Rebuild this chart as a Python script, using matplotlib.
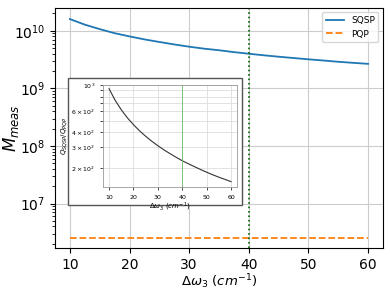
import numpy as np
import matplotlib
matplotlib.use("Agg")
import matplotlib.pyplot as plt
from matplotlib.patches import Rectangle

# data
dw = [10, 12.5, 15, 17.5, 20, 22.5, 25, 27.5, 30, 32.5, 35, 37.5,
      40, 42.5, 45, 47.5, 50, 52.5, 55, 57.5, 60]
m_sqsp = [1.6e10, 1.28e10, 1.07e10, 9.1e9, 8.0e9, 7.1e9, 6.4e9, 5.8e9, 5.3e9, 4.9e9, 4.6e9,
          4.27e9, 4.0e9, 3.76e9, 3.55e9, 3.37e9, 3.2e9, 3.05e9, 2.9e9, 2.78e9, 2.67e9]
m_pqp = [2.5e6] * len(dw)
ratio = [930, 744, 620, 531, 465, 413, 372, 338, 310, 286, 266,
         248, 232, 219, 207, 196, 186, 177, 169, 162, 155]
dw_mark = 40

fig = plt.figure(figsize=(3.9, 2.93), dpi=100)
ax = fig.add_axes([0.141, 0.152, 0.841, 0.821])
ax.plot(dw, m_sqsp, color='tab:blue', lw=1.3, label='SQSP')
ax.plot(dw, m_pqp, color='tab:orange', lw=1.3, ls='--', label='PQP')
ax.axvline(dw_mark, color='darkgreen', ls=':', lw=1.2)
ax.set_yscale('log')
ax.set_ylim(1.66e6, 2.5e10)
ax.set_xlim(7.5, 62.5)
ax.grid(True, which='major', color='#cccccc', lw=0.8)
ax.tick_params(labelsize=10)
ax.set_xlabel(r'$\Delta\omega_3\ (cm^{-1})$', fontsize=9.5, labelpad=0)
ax.set_ylabel(r'$M_{meas}$', fontsize=12)
ax.yaxis.set_label_coords(-0.105, 0.5)
ax.legend(loc='upper right', fontsize=6.5)

# box around the inset
fig.patches.append(Rectangle((0.174, 0.300), 0.446, 0.433, transform=fig.transFigure,
                             facecolor='white', edgecolor='#555555', lw=1.0, zorder=3))

ins = fig.add_axes([0.264, 0.362, 0.344, 0.348], zorder=4)
ins.plot(dw, ratio, color='#333333', lw=0.8)
ins.axvline(dw_mark, color='#66bb66', lw=0.6)
ins.set_yscale('log')
ins.set_ylim(140, 1000)
ins.set_xlim(7.5, 62.5)
ins.grid(True, which='both', color='#dddddd', lw=0.6)
ins.tick_params(which='both', labelsize=4.5, length=2, width=0.5)
for s in ins.spines.values():
    s.set_linewidth(0.6)
    s.set_color('#999999')
ins.set_xlabel(r'$\Delta\omega_3\ (cm^{-1})$', fontsize=5, labelpad=1)
ins.set_ylabel(r'$Q_{SQSP}/Q_{PQP}$', fontsize=5, labelpad=1)

fig.savefig('out.png', dpi=100)
